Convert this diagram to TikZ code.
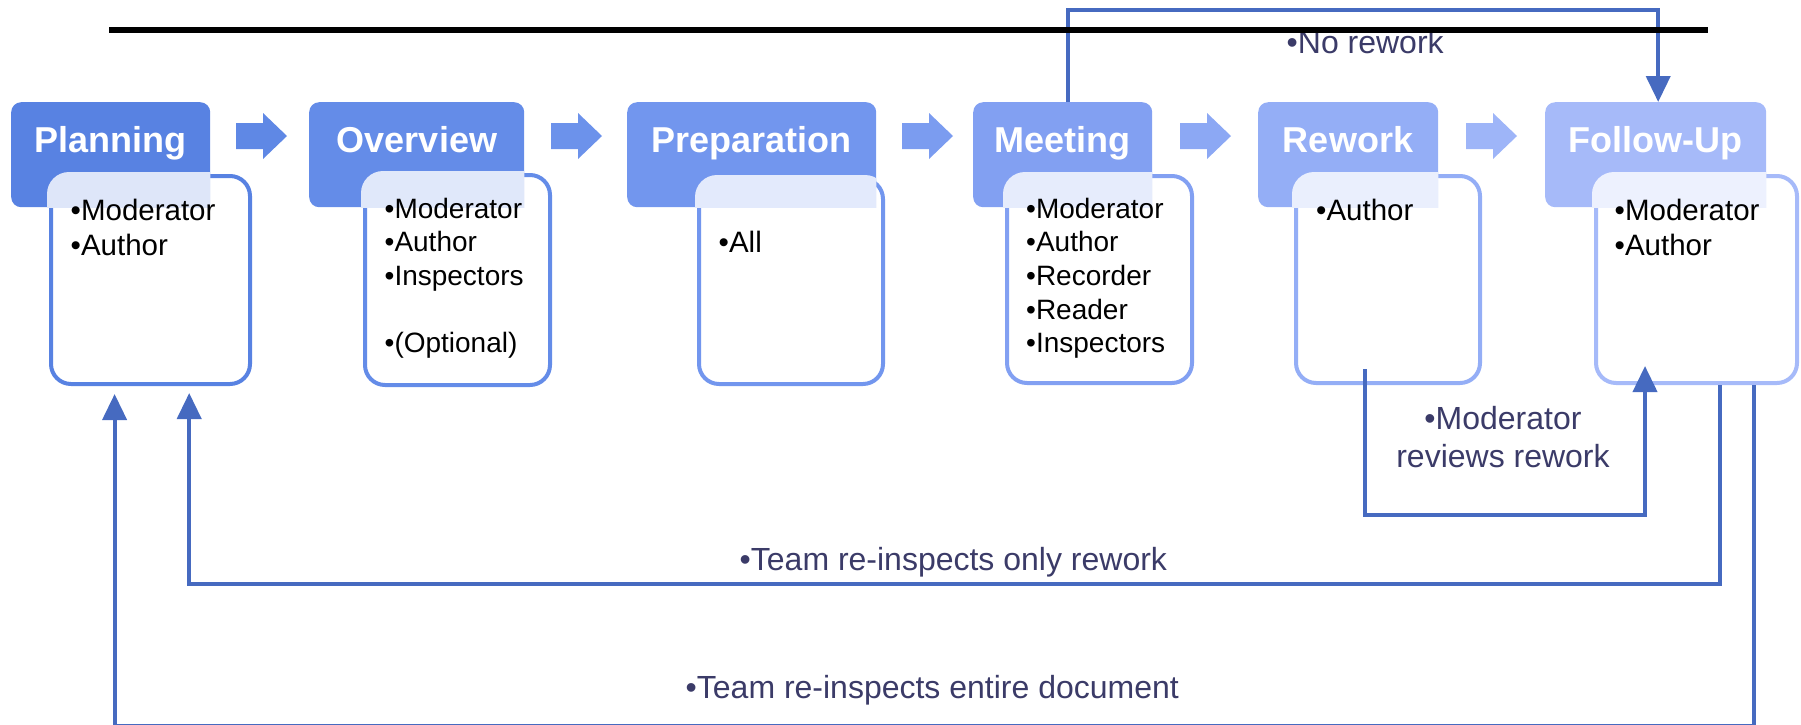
\documentclass[tikz,border=0pt]{standalone}
\usepackage{fontspec}
\setmainfont{Liberation Sans}
\usetikzlibrary{arrows.meta}

% stage colours, dark to light
\definecolor{cA}{RGB}{88,130,226}
\definecolor{cB}{RGB}{100,140,232}
\definecolor{cC}{RGB}{114,150,238}
\definecolor{cD}{RGB}{130,160,242}
\definecolor{cE}{RGB}{148,174,246}
\definecolor{cF}{RGB}{166,186,249}
\definecolor{linkblue}{RGB}{70,106,192}
\definecolor{navy}{RGB}{59,59,104}

% chevron-like block arrow between two stage headers
\newcommand{\blkarrow}[2]{%
  \fill[#2] (#1,123) -- ++(27,0) -- ++(0,-10) -- ++(24,23) -- ++(-24,23) -- ++(0,-10) -- ++(-27,0) -- cycle;}

% light tint where a role box lies over its header
\newcommand{\tint}[3]{%
  \begin{scope}
    \clip (#1.north west) rectangle (#1.south east);
    \clip[rounded corners=22pt] ([shift={(-2pt,2pt)}]#2.north west) rectangle ([shift={(2pt,-2pt)}]#2.south east);
    \fill[#3!20!white] (#1.north west) rectangle (#2.south east);
  \end{scope}}

\begin{document}
\begin{tikzpicture}[x=1pt,y=-1pt,
  hdrbox/.style={fill=#1, rounded corners=10pt, inner sep=0pt, anchor=north west},
  rolebox/.style={draw=#1, fill=white, line width=4pt, rounded corners=20pt, inner sep=0pt, anchor=north west},
  hdrtext/.style={text=white, font=\fontsize{36}{43}\selectfont\bfseries, inner sep=0pt, anchor=base},
  roleL/.style={text=black, font=\fontsize{29.5}{35}\selectfont, inner sep=0pt, anchor=base west},
  roleS/.style={text=black, font=\fontsize{28}{33.7}\selectfont, inner sep=0pt, anchor=base west},
  lbl/.style={text=navy, font=\fontsize{32}{38.5}\selectfont, inner sep=0pt},
  conn/.style={draw=linkblue, line width=4pt, -{Triangle[length=26pt,width=24pt]}}
]
\useasboundingbox (0,0) rectangle (1801,724);

% stage headers
\node[hdrbox=cA, minimum width=199pt, minimum height=105pt] (plH) at (11,102) {};
\node[hdrbox=cB, minimum width=215pt, minimum height=105pt] (ovH) at (309,102) {};
\node[hdrbox=cC, minimum width=249pt, minimum height=105pt] (prH) at (627,102) {};
\node[hdrbox=cD, minimum width=179pt, minimum height=105pt] (mtH) at (973,102) {};
\node[hdrbox=cE, minimum width=180pt, minimum height=105pt] (rwH) at (1258,102) {};
\node[hdrbox=cF, minimum width=221pt, minimum height=105pt] (fuH) at (1545,102) {};

% block arrows between stages
\blkarrow{236}{cA!40!cB}
\blkarrow{551}{cB!45!cC}
\blkarrow{902}{cC!45!cD}
\blkarrow{1180}{cD!45!cE}
\blkarrow{1466}{cE!45!cF}

% role boxes
\node[rolebox=cA, minimum width=199pt, minimum height=208pt] (plB) at (49,174) {};
\node[rolebox=cB, minimum width=185pt, minimum height=210pt] (ovB) at (363,173) {};
\node[rolebox=cC, minimum width=184pt, minimum height=205pt] (prB) at (697,177) {};
\node[rolebox=cD, minimum width=185pt, minimum height=207pt] (mtB) at (1005,174) {};
\node[rolebox=cE, minimum width=184pt, minimum height=207pt] (rwB) at (1294,174) {};
\node[rolebox=cF, minimum width=201pt, minimum height=207pt] (fuB) at (1594,174) {};

\tint{plH}{plB}{cA}
\tint{ovH}{ovB}{cB}
\tint{prH}{prB}{cC}
\tint{mtH}{mtB}{cD}
\tint{rwH}{rwB}{cE}
\tint{fuH}{fuB}{cF}

% stage names
\node[hdrtext] (plT) at (110.5,152) {Planning};
\node[hdrtext] (ovT) at (417,152) {Overview};
\node[hdrtext] (prT) at (751.5,152) {Preparation};
\node[hdrtext] (mtT) at (1062.5,152) {Meeting};
\node[hdrtext] (rwT) at (1348,152) {Rework};
\node[hdrtext] (fuT) at (1655.5,152) {Follow-Up};

% roles
\node[roleL] (plR) at (70.5,220) {\begin{tabular}[t]{@{}l@{}}•Moderator\\•Author\end{tabular}};
\node[roleS] (ovR) at (384.5,218) {\begin{tabular}[t]{@{}l@{}}•Moderator\\•Author\\•Inspectors\\ \\•(Optional)\end{tabular}};
\node[roleL] (prR) at (718.5,252) {•All};
\node[roleS] (mtR) at (1026,218) {\begin{tabular}[t]{@{}l@{}}•Moderator\\•Author\\•Recorder\\•Reader\\•Inspectors\end{tabular}};
\node[roleL] (rwR) at (1316,220) {•Author};
\node[roleL] (fuR) at (1614.5,220) {\begin{tabular}[t]{@{}l@{}}•Moderator\\•Author\end{tabular}};

% feedback connectors
\draw[conn] ([xshift=5.5pt]mtH.north) -- ++(0,-92) -| ([xshift=2.5pt]fuH.north);
\draw[conn] ([shift={(-23pt,16pt)}]rwB.south) -- ++(0,146) -| ([shift={(-51.5pt,19pt)}]fuB.south);
\draw[conn] ([xshift=23.5pt]fuB.south) -- ++(0,199) -| ([shift={(38.7pt,-7pt)}]plB.south);
\draw[conn] ([xshift=57.5pt]fuB.south) -- ++(0,341) -| ([shift={(-35.9pt,-8pt)}]plB.south);

% connector labels
\node[lbl, anchor=base west] (noRw) at (1286.5,53) {•No rework};
\node[lbl, anchor=base] (modRv) at (1503,429) {\begin{tabular}[t]{@{}c@{}}•Moderator\\reviews rework\end{tabular}};
\node[lbl, anchor=base west] (onlyRw) at (739.5,570) {•Team re-inspects only rework};
\node[lbl, anchor=base west] (entire) at (685.5,698) {•Team re-inspects entire document};

% top rule
\draw[line width=5.3pt] (109,30) -- (1708,30);
\end{tikzpicture}
\end{document}
